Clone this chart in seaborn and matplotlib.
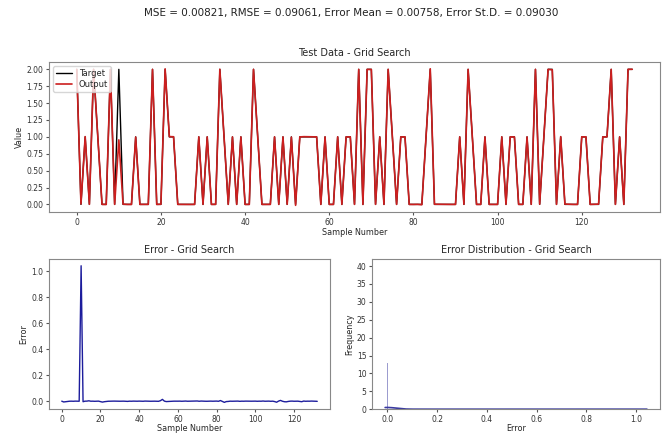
import numpy as np
import pandas as pd
import matplotlib
matplotlib.use("Agg")
import matplotlib.pyplot as plt
import seaborn as sns

target = [2, 0, 1, 0, 2, 1, 0, 0, 2, 0,
          2, 0, 0, 0, 1, 0, 0, 0, 2, 0,
          0, 2, 1, 1, 0, 0, 0, 0, 0, 1,
          0, 1, 0, 0, 2, 1, 0, 1, 0, 1,
          0, 0, 2, 1, 0, 0, 0, 1, 0, 1,
          0, 1, 0, 1, 1, 1, 1, 1, 0, 1,
          0, 0, 1, 0, 1, 1, 0, 2, 0, 2,
          2, 0, 1, 0, 2, 1, 0, 1, 1, 0,
          0, 0, 0, 1, 2, 0, 0, 0, 0, 0,
          0, 1, 0, 2, 1, 0, 0, 1, 0, 0,
          0, 1, 0, 1, 1, 0, 0, 1, 0, 2,
          0, 1, 2, 2, 0, 1, 0, 0, 0, 0,
          1, 1, 0, 0, 0, 1, 1, 2, 0, 1,
          0, 2, 2]

errors = [0.0001, -0.006, -0.004, -0.0012, -0.0003, 0.0001, -0.0006, 0.0005, 0.0001, -0.0004,
          1.044, -0.004, 0.0001, 0.0005, 0.003, -0.0002, 0.0001, -0.0008, 0.0001, 0.0004,
          -0.003, -0.007, -0.004, -0.002, -0.0005, 0.0001, -0.0001, 0.0006, 0.0001, -0.0006,
          -0.0003, 0.0001, 0.0002, -0.0010, -0.0015, 0.0001, -0.0004, 0.0005, 0.0001, -0.0002,
          0.0005, 0.0001, -0.0006, 0.0008, 0.0001, -0.0004, -0.0005, 0.0001, 0.0001, -0.0003,
          -0.0010, 0.004, 0.014, 0.0006, -0.003, -0.002, -0.0008, 0.0001, 0.0002, -0.0002,
          0.0001, 0.0004, -0.0006, 0.0001, 0.0010, -0.0004, -0.0001, 0.0001, 0.0012, 0.0005,
          0.0015, -0.0005, 0.0010, 0.0001, -0.0003, -0.0006, 0.0001, 0.0005, -0.0002, 0.0001,
          0.0008, -0.0008, 0.005, -0.002, -0.009, -0.003, -0.002, 0.0001, -0.0004, 0.0002,
          0.0001, 0.0006, -0.0010, 0.0001, -0.0003, 0.0005, 0.0001, -0.0005, -0.0001, 0.0001,
          0.0004, -0.0006, 0.0001, -0.0002, 0.0012, -0.0004, 0.0001, 0.0005, -0.0008, 0.0001,
          -0.003, -0.008, 0.0005, 0.006, -0.0003, -0.004, -0.005, -0.002, 0.0001, 0.0006,
          -0.0005, -0.0002, 0.0001, -0.002, -0.004, 0.0010, -0.0006, 0.0001, -0.0001, 0.0008,
          0.0002, -0.0004, -0.0010]

title_text = "MSE = 0.00821, RMSE = 0.09061, Error Mean = 0.00758, Error St.D. = 0.09030"

samples = np.arange(len(target))
output = np.array(target, dtype=float) - np.array(errors)
df = pd.DataFrame({"Sample": samples, "Target": target, "Output": output, "Error": errors})

# Freedman-Diaconis bin width (what older numpy's 'auto' picked for this data)
q75, q25 = np.percentile(errors, [75, 25])
fd_binwidth = 2.0 * (q75 - q25) / len(errors) ** (1.0 / 3.0)

sns.set_style("ticks")
plt.rcParams["font.family"] = ["DejaVu Sans"]
plt.rcParams["axes.edgecolor"] = "#888888"
plt.rcParams["axes.linewidth"] = 0.8
plt.rcParams["xtick.color"] = "#555555"
plt.rcParams["ytick.color"] = "#555555"
plt.rcParams["xtick.labelcolor"] = "#333333"
plt.rcParams["ytick.labelcolor"] = "#333333"
plt.rcParams["xtick.major.size"] = 2.5
plt.rcParams["ytick.major.size"] = 2.5

fig = plt.figure(figsize=(6.62, 4.33), dpi=100)
fig.suptitle(title_text, x=0.53, y=0.982, fontsize=7.5, color="#222222")

ax1 = fig.add_axes([0.074, 0.510, 0.923, 0.347])
ax2 = fig.add_axes([0.074, 0.055, 0.4245, 0.347])
ax3 = fig.add_axes([0.562, 0.055, 0.435, 0.347])

sns.lineplot(data=df, x="Sample", y="Target", ax=ax1, color="black", label="Target", linewidth=1.0)
sns.lineplot(data=df, x="Sample", y="Output", ax=ax1, color="#cc1f1f", label="Output", linewidth=1.2)
ax1.set_title("Test Data - Grid Search", fontsize=7, pad=4)
ax1.set_xlabel("Sample Number", fontsize=5.8, labelpad=1)
ax1.set_ylabel("Value", fontsize=5.8, labelpad=2)
ax1.set_yticks([0, 0.25, 0.5, 0.75, 1.0, 1.25, 1.5, 1.75, 2.0])
ax1.set_yticklabels(["0.00", "0.25", "0.50", "0.75", "1.00", "1.25", "1.50", "1.75", "2.00"])
ax1.tick_params(labelsize=5.5, pad=1.5)
leg = ax1.legend(loc="upper left", fontsize=6, frameon=True, borderpad=0.3, handlelength=2.0, labelspacing=0.3)
leg.get_frame().set_alpha(0.8)

sns.lineplot(data=df, x="Sample", y="Error", ax=ax2, color="#1c1c9c", linewidth=1.0)
ax2.set_title("Error - Grid Search", fontsize=7, pad=4)
ax2.set_xlabel("Sample Number", fontsize=5.8, labelpad=0.5)
ax2.set_ylabel("Error", fontsize=5.8, labelpad=2)
ax2.tick_params(labelsize=5.5, pad=1.5)

sns.histplot(data=df, x="Error", ax=ax3, kde=True, color="#3a3aa0", binwidth=fd_binwidth,
             line_kws={"linewidth": 1.2})
ax3.set_title("Error Distribution - Grid Search", fontsize=7, pad=4)
ax3.set_xlabel("Error", fontsize=5.8, labelpad=0.5)
ax3.set_ylabel("Frequency", fontsize=5.8, labelpad=2)
ax3.tick_params(labelsize=5.5, pad=1.5)

fig.savefig("out.png", dpi=100)
